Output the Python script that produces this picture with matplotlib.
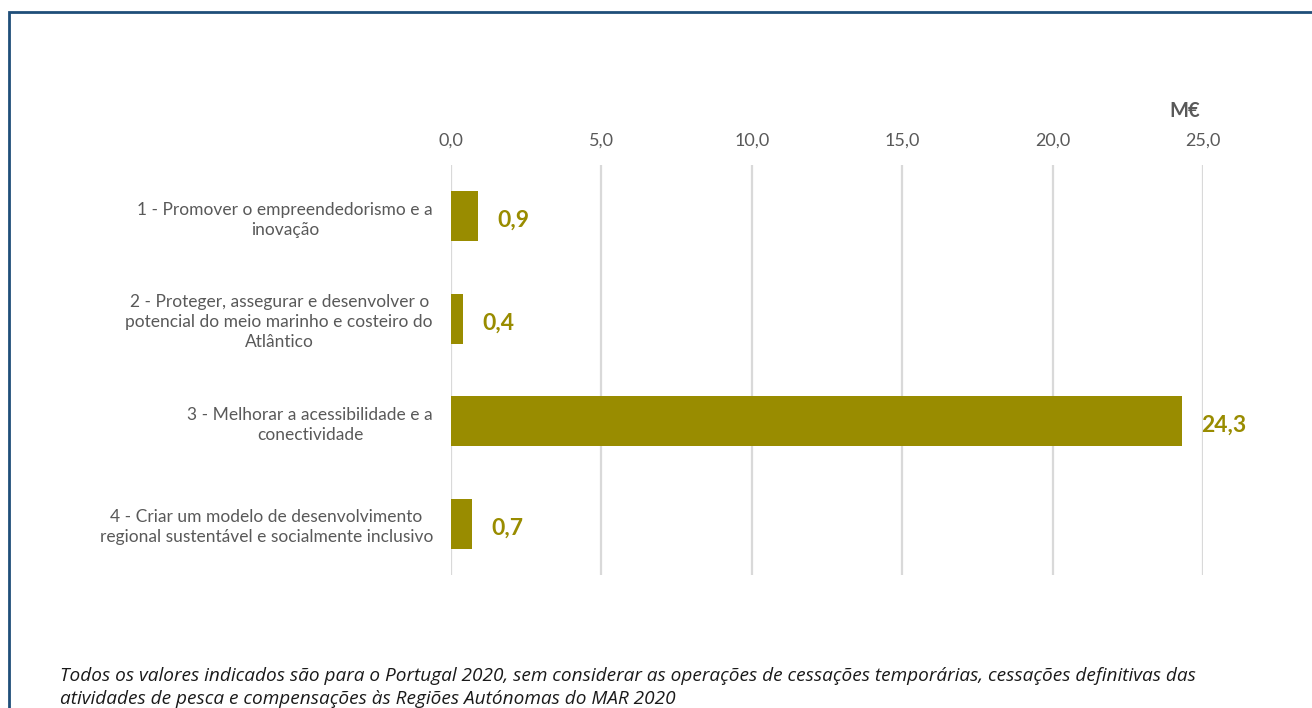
import matplotlib.pyplot as plt
from matplotlib.patches import Rectangle

# data
categories = ['1 - Promover o empreendedorismo e a\ninovação',
              '2 - Proteger, assegurar e desenvolver o\npotencial do meio marinho e costeiro do\nAtlântico',
              '3 - Melhorar a acessibilidade e a\nconectividade',
              '4 - Criar um modelo de desenvolvimento\nregional sustentável e socialmente inclusivo']
values = [0.9, 0.4, 24.3, 0.7]
ticks = [0, 5, 10, 15, 20, 25]

plt.rcParams['font.family'] = ['Lato', 'DejaVu Sans']

bar_color = '#998C00'
grey = '#595959'

fig = plt.figure(figsize=(13.12, 7.08), dpi=100)
ax = fig.add_axes([451/1312, 1 - 575/708, (1203 - 451)/1312, (575 - 165)/708])

pos = list(range(len(categories)))
ax.barh(pos, values, height=0.49, color=bar_color, zorder=3)
ax.set_ylim(len(categories) - 0.5, -0.5)
ax.set_xlim(0, 25)

ax.set_yticks(pos)
ax.set_yticklabels(categories, fontsize=12.5, color=grey, ha='right',
                   multialignment='center', linespacing=1.3)
ax.tick_params(axis='y', length=0, pad=13)

ax.xaxis.tick_top()
ax.set_xticks(ticks)
ax.set_xticklabels([f'{t:.1f}'.replace('.', ',') for t in ticks], fontsize=13, color=grey)
ax.tick_params(axis='x', length=0, pad=12)

ax.grid(axis='x', color='#D9D9D9', linewidth=1.6, zorder=0)
for s in ax.spines.values():
    s.set_visible(False)

for p, v in zip(pos, values):
    ax.annotate(f'{v:.1f}'.replace('.', ','), (v, p), xytext=(14, -3), textcoords='offset points',
                va='center', ha='left', fontsize=16.5, fontweight='bold', color=bar_color)

fig.text(1185/1312, 1 - 111/708, 'M€', fontsize=14.5, fontweight='bold', color=grey,
         ha='center', va='center')

fig.text(60/1312, 1 - 676/708,
         'Todos os valores indicados são para o Portugal 2020, sem considerar as operações de cessações temporárias, cessações definitivas das',
         fontsize=13.7, style='italic', color='#1a1a1a', va='center', family=['Open Sans', 'DejaVu Sans'])
fig.text(60/1312, 1 - 699/708,
         'atividades de pesca e compensações às Regiões Autónomas do MAR 2020',
         fontsize=13.7, style='italic', color='#1a1a1a', va='center', family=['Open Sans', 'DejaVu Sans'])

# outer frame (cut off on the right and bottom)
fig.patches.append(Rectangle((9/1312, -0.1), 1.2, 1 - 12/708 + 0.1, transform=fig.transFigure,
                             fill=False, edgecolor='#1F4E79', linewidth=2))

fig.savefig('out.png', dpi=100)
